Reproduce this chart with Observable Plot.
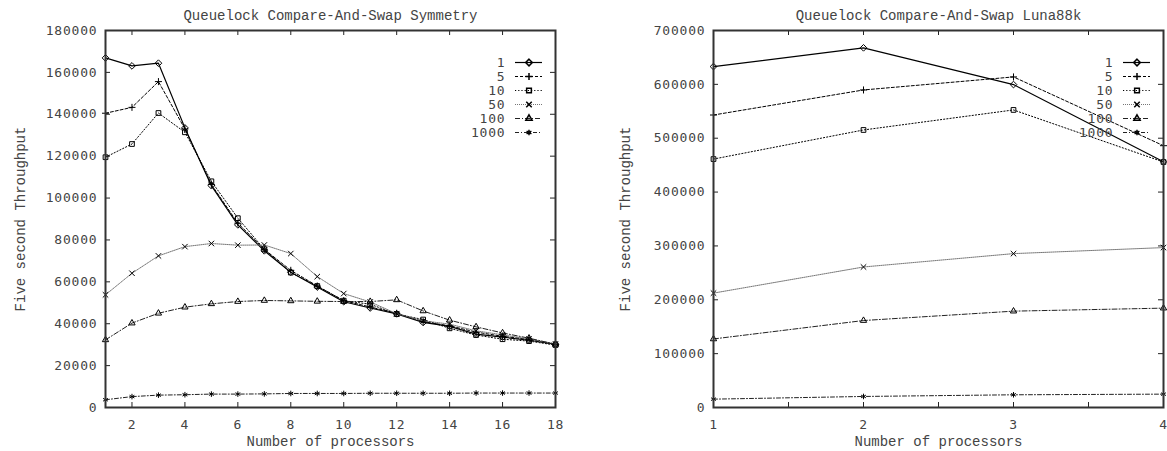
<!DOCTYPE html>
<html><head><meta charset="utf-8">
<script src="https://cdn.jsdelivr.net/npm/d3@7"></script>
<script src="https://cdn.jsdelivr.net/npm/@observablehq/plot@0.6"></script>
<style>
html,body{margin:0;padding:0;background:#fff;}
#wrap{position:relative;width:1167px;height:451px;overflow:hidden;background:#fff;}
.pane{position:absolute;top:0;}
g[aria-label$="tick label"]{letter-spacing:0.8px;}
g[aria-label="y title"]{letter-spacing:1.5px;}
</style></head><body><div id="wrap"></div>
<script>
// ---------- data ----------
const seriesNames = ["1", "5", "10", "50", "100", "1000"];

const symProcs = [1, 2, 3, 4, 5, 6, 7, 8, 9, 10, 11, 12, 13, 14, 15, 16, 17, 18];
const sym1    = [166900, 163100, 164400, 133500, 105900, 87200, 74800, 64600, 57500, 50500, 47500, 44700, 40600, 38700, 35000, 33600, 32100, 30200];
const sym5    = [140500, 143300, 155600, 133000, 106500, 88000, 75500, 65500, 58000, 51000, 48000, 45000, 41000, 39000, 36000, 34000, 32500, 30000];
const sym10   = [119500, 125800, 140600, 131400, 108000, 90400, 75500, 64400, 58000, 51000, 49300, 44600, 42000, 37800, 34600, 32600, 31700, 29800];
const sym50   = [53800, 64100, 72400, 76800, 78300, 77500, 77600, 73500, 62500, 54400, 50400, 44800, 41400, 39800, 36600, 34700, 32700, 30400];
const sym100  = [32300, 40300, 45000, 47900, 49500, 50600, 51100, 50900, 50700, 50600, 50600, 51400, 46100, 41700, 38500, 35600, 33100, 30200];
const sym1000 = [3700, 5200, 5900, 6100, 6400, 6400, 6500, 6700, 6700, 6700, 6800, 6800, 6800, 6800, 6900, 6900, 6900, 6900];

const lunaProcs = [1, 2, 3, 4];
const luna1    = [633000, 667800, 599600, 456400];
const luna5    = [543100, 589600, 613800, 486100];
const luna10   = [461300, 515300, 552500, 455800];
const luna50   = [212400, 260900, 285700, 296900];
const luna100  = [127300, 161500, 178900, 184500];
const luna1000 = [15500, 20500, 23600, 24800];

const symXTickLabels = [2, 4, 6, 8, 10, 12, 14, 16, 18];
const symYTicks = [0, 20000, 40000, 60000, 80000, 100000, 120000, 140000, 160000, 180000];
const lunaXTickLabels = [1, 2, 3, 4];
const lunaXTickMarks = [1.5, 2, 2.5, 3, 3.5];
const lunaYTicks = [0, 100000, 200000, 300000, 400000, 500000, 600000, 700000];

const titles = ["Queuelock Compare-And-Swap Symmetry", "Queuelock Compare-And-Swap Luna88k"];
const xTitle = "Number of processors";
const yTitle = "Five second Throughput";

// ---------- styles ----------
const styles = {
  "1":    {dash: null,      stroke: "#000", width: 1.2, symbol: "diamond2",  r: 3},
  "5":    {dash: "3,2",     stroke: "#000", width: 1,   symbol: "plus",      r: 2.4},
  "10":   {dash: "1.2,2",   stroke: "#000", width: 1,   symbol: "square2",   r: 3},
  "50":   {dash: "1,1",     stroke: "#666", width: 0.9, symbol: "times",     r: 2.6},
  "100":  {dash: "5,2,1,2", stroke: "#222", width: 1,   symbol: "triangle2", r: 3},
  "1000": {dash: "4,2,1,2", stroke: "#222", width: 1,   symbol: "asterisk",  r: 2.6}
};

const tickFont = "DejaVu Sans Mono";
const textFont = "Liberation Mono";
const H = 451, MT = 30, MB = 44;

function chart({procs, values, yDomain, yTicks, xDomain, xLabels, xMarks, title, width, ml, mr, ylDx}) {
  const frameW = width - ml - mr, frameH = H - MT - MB;
  const marks = [];
  // inward tick marks on all sides
  marks.push(Plot.ruleX(xMarks, {x: d => d, insetTop: frameH - 5, stroke: "#222"}));
  marks.push(Plot.ruleX(xMarks, {x: d => d, insetBottom: frameH - 5, stroke: "#222"}));
  const inner = yTicks.slice(1, -1);
  marks.push(Plot.ruleY(inner, {y: d => d, insetRight: frameW - 5, stroke: "#222"}));
  marks.push(Plot.ruleY(inner, {y: d => d, insetLeft: frameW - 5, stroke: "#222"}));
  seriesNames.forEach((name, i) => {
    const st = styles[name];
    const rows = procs.map((p, j) => ({x: p, y: values[i][j]}));
    marks.push(Plot.line(rows, {x: "x", y: "y", stroke: st.stroke, strokeWidth: st.width, strokeDasharray: st.dash}));
    marks.push(Plot.dot(rows, {x: "x", y: "y", symbol: () => st.symbol, r: st.r, stroke: "#000", strokeWidth: 1, fill: "none"}));
  });
  marks.push(Plot.frame({stroke: "#333", strokeWidth: 2}));
  marks.push(Plot.axisX(xLabels, {tickSize: 0, tickPadding: 12, tickFormat: d => String(d), label: null, fill: "#444"}));
  marks.push(Plot.axisY(yTicks, {tickSize: 0, tickPadding: 8, tickFormat: d => String(d), label: null, fill: "#444"}));
  marks.push(Plot.text([title], {frameAnchor: "top", dy: -15, textAnchor: "middle", lineAnchor: "middle", fontFamily: textFont, fontSize: 14, fill: "#444"}));
  marks.push(Plot.text([xTitle], {frameAnchor: "bottom", dy: 34, textAnchor: "middle", lineAnchor: "middle", fontFamily: textFont, fontSize: 14, fill: "#444"}));
  marks.push(Plot.text([yTitle], {frameAnchor: "left", dx: ylDx, rotate: -90, textAnchor: "middle", lineAnchor: "middle", fontFamily: textFont, fontSize: 14, fill: "#444", ariaLabel: "y title"}));
  return Plot.plot({
    width, height: H, marginLeft: ml, marginRight: mr, marginTop: MT, marginBottom: MB,
    x: {domain: xDomain, nice: false},
    y: {domain: yDomain, nice: false},
    style: {fontFamily: tickFont, fontSize: "13px", background: "white", overflow: "visible"},
    marks
  });
}

function legend() {
  const marks = [];
  seriesNames.forEach(name => {
    const st = styles[name];
    marks.push(Plot.ruleY([name], {y: d => d, x1: () => 0, x2: () => 1, stroke: st.stroke, strokeWidth: st.width, strokeDasharray: st.dash}));
    marks.push(Plot.dot([name], {x: () => 0.5, y: d => d, symbol: () => st.symbol, r: st.r, stroke: "#000", fill: "none"}));
  });
  marks.push(Plot.text(seriesNames, {x: () => 0, y: d => d, text: d => d, textAnchor: "end", dx: -10, fill: "#444"}));
  return Plot.plot({
    width: 80, height: 120, margin: 0,
    x: {domain: [0, 1], range: [45, 72], axis: null},
    y: {type: "point", domain: seriesNames, range: [16, 103], axis: null},
    style: {fontFamily: tickFont, fontSize: "13px", letterSpacing: "0.8px", background: "transparent", overflow: "visible"},
    marks
  });
}

const wrap = document.getElementById("wrap");
function place(node, left, top) {
  node.classList.add("pane");
  node.style.left = left + "px";
  node.style.top = top + "px";
  wrap.appendChild(node);
}

place(chart({
  procs: symProcs, values: [sym1, sym5, sym10, sym50, sym100, sym1000],
  yDomain: [0, 180000], yTicks: symYTicks, xDomain: [1, 18],
  xLabels: symXTickLabels, xMarks: symXTickLabels.slice(0, -1),
  title: titles[0], width: 583, ml: 105, mr: 28, ylDx: -85
}), 0, 0);

place(chart({
  procs: lunaProcs, values: [luna1, luna5, luna10, luna50, luna100, luna1000],
  yDomain: [0, 700000], yTicks: lunaYTicks, xDomain: [1, 4],
  xLabels: lunaXTickLabels, xMarks: lunaXTickMarks,
  title: titles[1], width: 584, ml: 130, mr: 4, ylDx: -88
}), 583, 0);

place(legend(), 470, 37);
place(legend(), 1078, 37);
</script></body></html>
